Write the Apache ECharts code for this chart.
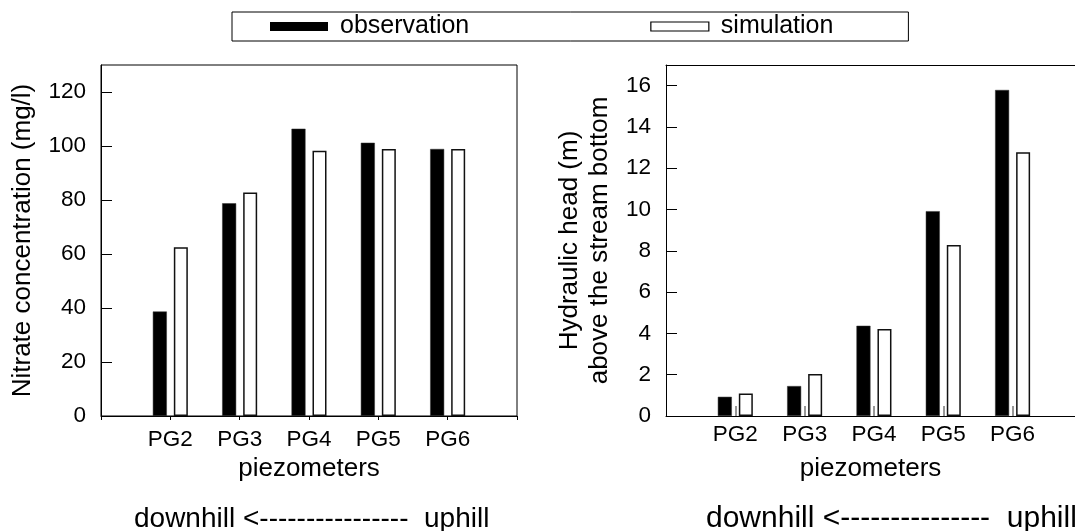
<!DOCTYPE html>
<html>
<head>
<meta charset="utf-8">
<script src="https://cdn.jsdelivr.net/npm/echarts@6/dist/echarts.min.js"></script>
<style>
  html, body { margin: 0; padding: 0; background: #fff; overflow: hidden; }
  #chart { width: 1075px; height: 531px; }
</style>
</head>
<body>
<div id="chart"></div>
<script>
const FONT = '"Liberation Sans", Arial, Helvetica, sans-serif';

// piezometer names, placed at x = 1..5 on each panel
const categories = ['PG2', 'PG3', 'PG4', 'PG5', 'PG6'];

// left panel: nitrate concentration (mg/l)
const nitrateObs = [38.7, 78.8, 106.4, 101.2, 98.9];
const nitrateSim = [62.5, 82.8, 98.2, 98.9, 98.9];
const nitrateTicks = [0, 20, 40, 60, 80, 100, 120];

// right panel: hydraulic head (m) above the stream bottom
const headObs = [0.93, 1.45, 4.37, 9.92, 15.79];
const headSim = [1.09, 2.03, 4.21, 8.28, 12.77];
const headTicks = [0, 2, 4, 6, 8, 10, 12, 14, 16];

const catPos = categories.map((c, i) => i + 1);
const pairs = vals => vals.map((v, i) => [catPos[i], v]);
const catLabel = v => categories[v - 1] || '';

// right panel is as wide as the left one but runs off the page edge,
// so only the visible part of its 0..6 range is kept
const RIGHT_XMAX = 5.9;

const obsStyle = { color: '#000', borderColor: '#333', borderWidth: 0.5 };
const simStyle = { color: '#fff', borderColor: '#111', borderWidth: 1.5 };

function xAxisFor(gridIndex, opts) {
  return {
    type: 'value', gridIndex, min: 0, max: opts.max, interval: 1,
    name: 'piezometers', nameLocation: 'middle', nameGap: opts.nameGap,
    nameTextStyle: { fontFamily: FONT, fontSize: 26, color: '#000', verticalAlign: 'top' },
    axisLine: { show: true, lineStyle: { color: '#000', width: 1 } },
    axisTick: opts.tick,
    axisLabel: {
      customValues: catPos, formatter: catLabel, margin: opts.labelMargin,
      fontFamily: FONT, fontSize: 22.5, color: '#000'
    },
    splitLine: { show: false }
  };
}

function yAxisFor(gridIndex, opts) {
  return {
    type: 'value', gridIndex, min: 0, max: opts.max,
    name: opts.name, nameLocation: 'middle', nameRotate: 90, nameGap: opts.nameGap,
    nameTextStyle: { fontFamily: FONT, fontSize: 26, color: '#000', lineHeight: 30 },
    axisLine: { show: true, lineStyle: { color: '#000', width: 1 } },
    axisTick: { inside: true, length: 11, customValues: opts.ticks, lineStyle: { color: '#000' } },
    axisLabel: {
      customValues: opts.ticks, margin: 15,
      fontFamily: FONT, fontSize: 22.5, color: '#000'
    },
    splitLine: { show: false }
  };
}

const chart = echarts.init(document.getElementById('chart'), null, { renderer: 'canvas' });

chart.setOption({
  animation: false,
  backgroundColor: '#fff',
  legend: {
    left: 232, top: 12,
    padding: [2, 75, 2, 38],
    borderColor: '#000', borderWidth: 1,
    itemWidth: 58, itemHeight: 9, itemGap: 181,
    textStyle: { fontFamily: FONT, fontSize: 25, color: '#000', padding: [0, 0, 0, 7] },
    data: [
      { name: 'observation', icon: 'rect', itemStyle: { color: '#000', borderWidth: 0 } },
      { name: 'simulation', icon: 'rect', itemStyle: { color: '#fff', borderColor: '#000', borderWidth: 1.2 } }
    ]
  },
  grid: [
    { left: 101, width: 416, top: 65, bottom: 115, show: true, borderColor: '#000', borderWidth: 1 },
    { left: 666, right: 0, top: 65, bottom: 115, show: false }
  ],
  xAxis: [
    xAxisFor(0, {
      max: 6, nameGap: 32, labelMargin: 12,
      tick: { inside: false, length: 4, lineStyle: { color: '#000' } }
    }),
    xAxisFor(1, {
      max: RIGHT_XMAX, nameGap: 40, labelMargin: 7,
      tick: { inside: true, length: 10, customValues: catPos, lineStyle: { color: '#777', width: 1.5 } }
    }),
    // top frame line of the right panel
    {
      type: 'value', gridIndex: 1, position: 'top', min: 0, max: RIGHT_XMAX,
      axisLine: { show: true, lineStyle: { color: '#000', width: 1 } },
      axisTick: { show: false }, axisLabel: { show: false }, splitLine: { show: false }
    }
  ],
  yAxis: [
    yAxisFor(0, { max: 130, ticks: nitrateTicks, name: 'Nitrate concentration (mg/l)', nameGap: 63 }),
    yAxisFor(1, { max: 17, ticks: headTicks, name: 'Hydraulic head (m)\nabove the stream bottom', nameGap: 51 })
  ],
  series: [
    { name: 'observation', type: 'bar', xAxisIndex: 0, yAxisIndex: 0, barWidth: 14, barGap: '50%',
      data: pairs(nitrateObs), itemStyle: obsStyle },
    { name: 'simulation', type: 'bar', xAxisIndex: 0, yAxisIndex: 0, barWidth: 14, barGap: '50%',
      data: pairs(nitrateSim), itemStyle: simStyle },
    { name: 'observation', type: 'bar', xAxisIndex: 1, yAxisIndex: 1, barWidth: 14, barGap: '50%',
      data: pairs(headObs), itemStyle: obsStyle },
    { name: 'simulation', type: 'bar', xAxisIndex: 1, yAxisIndex: 1, barWidth: 14, barGap: '50%',
      data: pairs(headSim), itemStyle: simStyle }
  ],
  graphic: [
    { type: 'text', left: 134, top: 505,
      style: { text: 'downhill <----------------  uphill', font: '28px ' + FONT, fill: '#000' } },
    { type: 'text', left: 706, top: 504,
      style: { text: 'downhill <---------------  uphill', font: '30px ' + FONT, fill: '#000' } }
  ]
});
</script>
</body>
</html>
